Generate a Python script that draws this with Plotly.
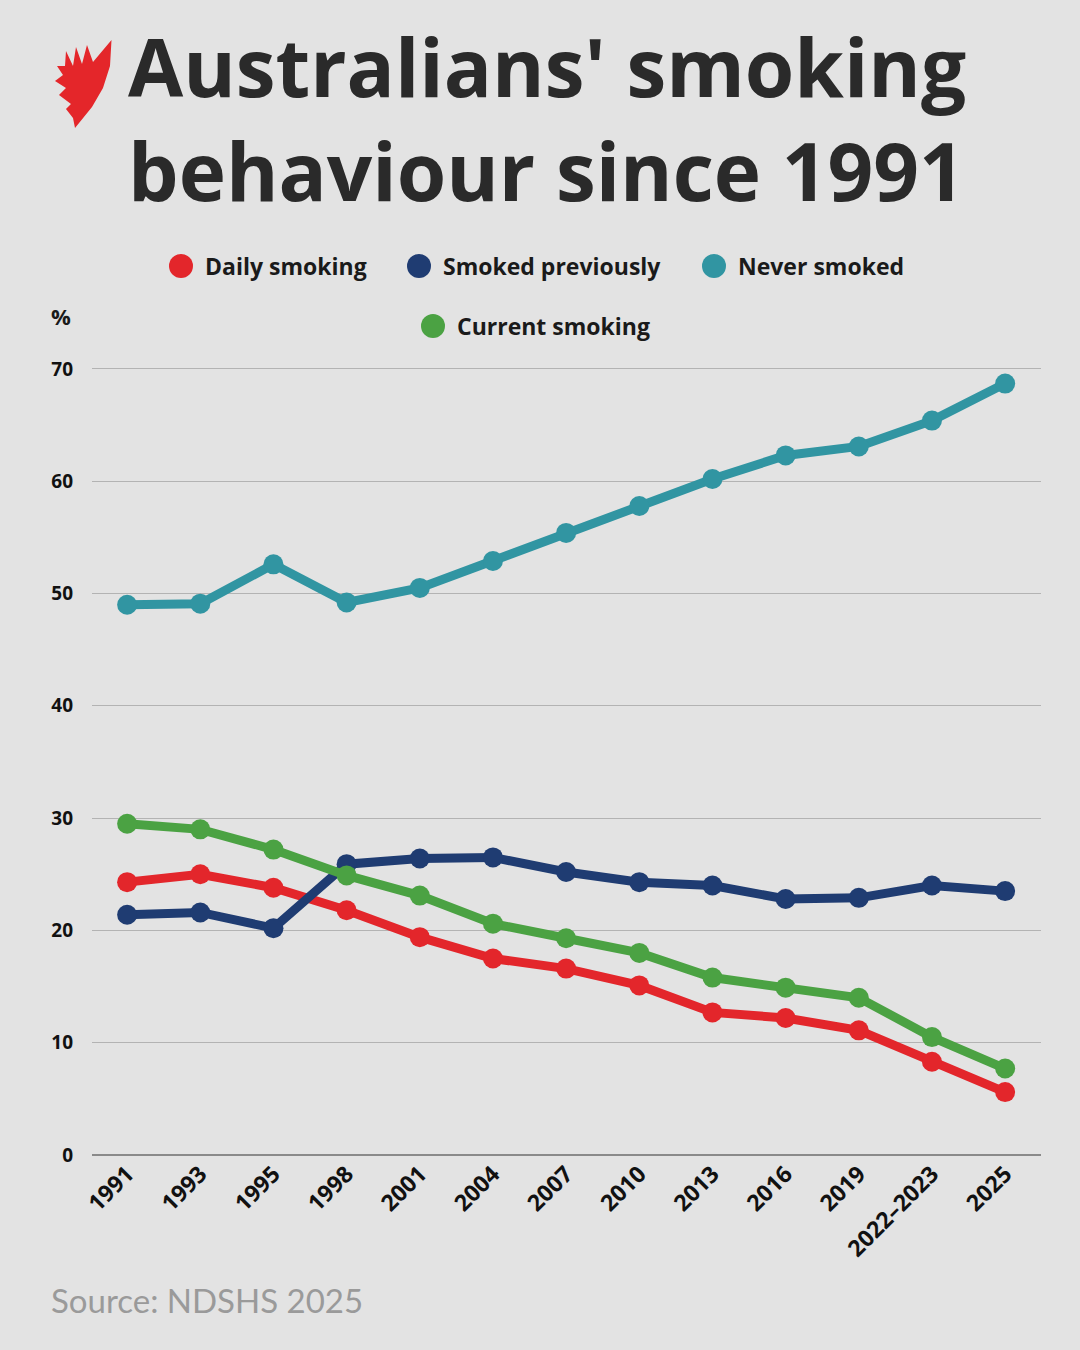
import plotly.graph_objects as go

years = ["1991", "1993", "1995", "1998", "2001", "2004", "2007", "2010",
         "2013", "2016", "2019", "2022–2023", "2025"]
daily_smoking = [24.3, 25.0, 23.8, 21.8, 19.4, 17.5, 16.6, 15.1, 12.7, 12.2, 11.1, 8.3, 5.6]
smoked_previously = [21.4, 21.6, 20.2, 25.9, 26.4, 26.5, 25.2, 24.3, 24.0, 22.8, 22.9, 24.0, 23.5]
never_smoked = [49.0, 49.1, 52.6, 49.2, 50.5, 52.9, 55.4, 57.8, 60.2, 62.3, 63.1, 65.4, 68.7]
current_smoking = [29.5, 29.0, 27.2, 24.9, 23.1, 20.6, 19.3, 18.0, 15.8, 14.9, 14.0, 10.5, 7.7]

series_names = ["Daily smoking", "Smoked previously", "Never smoked", "Current smoking"]
series_values = [daily_smoking, smoked_previously, never_smoked, current_smoking]
colors = ["#e3262b", "#1f3c72", "#3195a2", "#4ba243"]

W, H = 1080, 1350
L, R, T, B = 92, 39, 340, 195
PW, PH = W - L - R, H - T - B

def px(x):
    return (x - L) / PW

def py(y):
    return (H - B - y) / PH

fig = go.Figure()
for name, vals, c in zip(series_names, series_values, colors):
    fig.add_trace(go.Scatter(
        x=years, y=vals, name=name, mode="lines+markers",
        line=dict(color=c, width=9),
        marker=dict(color=c, size=20),
        showlegend=False, cliponaxis=False,
    ))

shapes = []
annotations = []

# legend (custom)
legend_items = [
    ("Daily smoking", colors[0], 181, 266),
    ("Smoked previously", colors[1], 419, 266),
    ("Never smoked", colors[2], 714, 266),
    ("Current smoking", colors[3], 433, 326),
]
for text, c, cx, cy in legend_items:
    r = 12
    shapes.append(dict(type="circle", xref="paper", yref="paper",
                       x0=px(cx - r), x1=px(cx + r), y0=py(cy + r), y1=py(cy - r),
                       fillcolor=c, line=dict(width=0), layer="above"))
    annotations.append(dict(text=text, xref="paper", yref="paper",
                            x=px(cx + 22), y=py(cy), xanchor="left", yanchor="middle",
                            showarrow=False,
                            font=dict(family="Open Sans", size=23, color="#1a1a1a", weight="bold")))

# logo (approximate SBS mark)
logo_pts = [(111.5, 40), (110, 66), (103, 88), (92, 107), (75, 128), (73, 118),
            (66, 109), (71, 104), (59, 95), (66, 88), (55, 81), (63, 75), (57, 66),
            (65, 66), (66, 51), (73, 66), (76, 47), (82, 64), (87, 45), (93, 62)]
path = "M " + " L ".join(f"{px(x):.5f},{py(y):.5f}" for x, y in logo_pts) + " Z"
shapes.append(dict(type="path", xref="paper", yref="paper", path=path,
                   fillcolor="#e4262a", line=dict(width=0), layer="above"))

# title
annotations.append(dict(text="Australians' smoking<br>behaviour since 1991", xref="paper", yref="paper",
                        x=px(126), y=py(117), xanchor="left", yanchor="middle", align="left",
                        showarrow=False,
                        font=dict(family="Open Sans", size=80, color="#2a2a2a", weight="bold")))

# % label
annotations.append(dict(text="%", xref="paper", yref="paper",
                        x=px(61), y=py(316), xanchor="center", yanchor="middle", showarrow=False,
                        font=dict(family="Open Sans", size=22, color="#1a1a1a", weight="bold")))

# source
annotations.append(dict(text="Source: NDSHS 2025", xref="paper", yref="paper",
                        x=px(49), y=py(1300), xanchor="left", yanchor="middle", showarrow=False,
                        font=dict(family="Lato", size=33, color="#9a9a9a")))

fig.update_layout(
    width=W, height=H,
    margin=dict(l=L, r=R, t=T, b=B, pad=0),
    paper_bgcolor="#e3e3e3", plot_bgcolor="#e3e3e3",
    shapes=shapes, annotations=annotations,
    xaxis=dict(type="category", range=[-0.48, 12.49], showgrid=False, zeroline=False,
               showline=False, tickangle=-45,
               tickfont=dict(family="Open Sans", size=23, color="#111111", weight="bold"),
               ticks="", fixedrange=True),
    yaxis=dict(range=[0, 72.58], tickvals=[0, 10, 20, 30, 40, 50, 60, 70],
               showgrid=True, gridcolor="#b3b3b3", gridwidth=1,
               zeroline=True, zerolinecolor="#8a8a8a", zerolinewidth=1.5,
               showline=False, ticks="", ticklabelstandoff=18,
               tickfont=dict(family="Open Sans", size=19, color="#111111", weight="bold")),
    showlegend=False,
)

fig.write_html("out.html")
